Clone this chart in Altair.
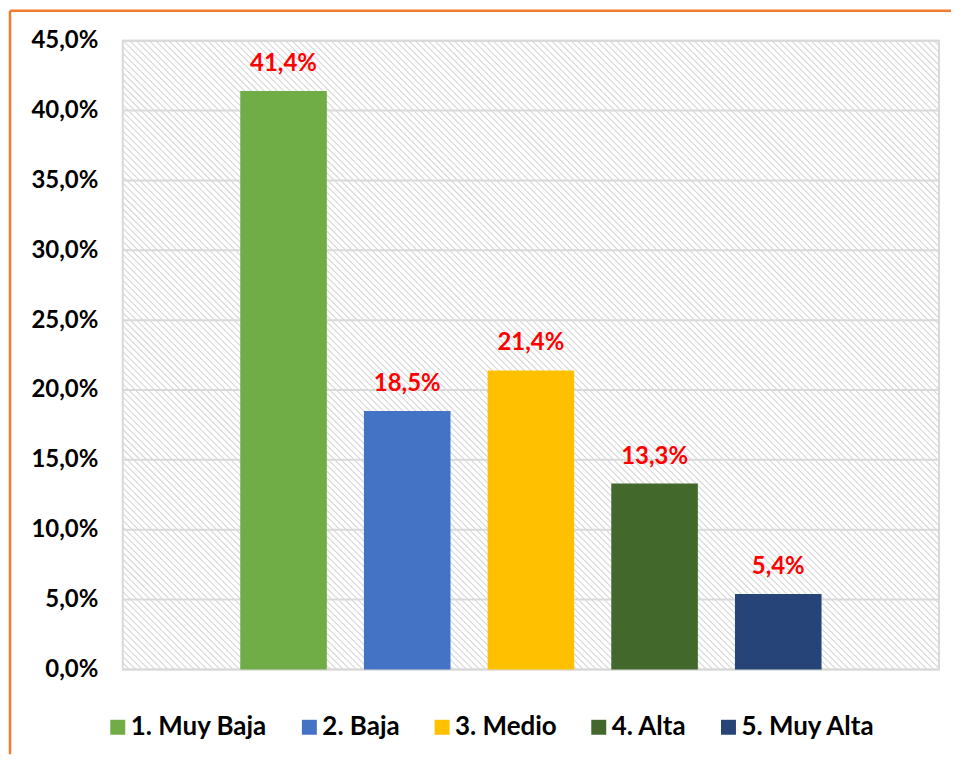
import altair as alt
import pandas as pd

# ---- data ----
categories = ["1. Muy Baja", "2. Baja", "3. Medio", "4. Alta", "5. Muy Alta"]
values = [0.414, 0.185, 0.214, 0.133, 0.054]
colors = ["#70AD47", "#4472C4", "#FFC000", "#43682B", "#264478"]
y_ticks = [0.0, 0.05, 0.10, 0.15, 0.20, 0.25, 0.30, 0.35, 0.40, 0.45]

# ---- style ----
W, H = 818, 630
HATCH_STEP = 6.5
FONT = "Lato"
FS = 24
LEG_FS = 26
ORANGE = "#ED7D31"
GRID = "#d9d9d9"

df = pd.DataFrame({"cat": categories, "val": values})
grid_df = pd.DataFrame({"t": y_ticks})
one = pd.DataFrame({"a": [0]})

xscale = alt.Scale(type="band", domain=categories, paddingInner=0.3, paddingOuter=0.95)
yscale = alt.Scale(domain=[0, 0.45], nice=False, zero=True)

n_lines = int((W + H) / HATCH_STEP) + 3
hatch = (
    alt.Chart(alt.sequence(0, n_lines, as_="i"))
    .transform_calculate(
        hx=f"datum.i * {HATCH_STEP} - {H}",
        hx2=f"datum.i * {HATCH_STEP}",
        hy=f"{H}",
        hy2="0",
    )
    .mark_rule(color="#d6d6d6", strokeWidth=1.1, clip=True)
    .encode(
        x=alt.X("hx:Q", scale=alt.Scale(domain=[0, W], nice=False, zero=False), axis=None),
        x2="hx2:Q",
        y=alt.Y("hy:Q", scale=alt.Scale(domain=[0, H], nice=False, zero=False), axis=None),
        y2="hy2:Q",
    )
)

grid = (
    alt.Chart(grid_df)
    .mark_rule(color=GRID, strokeWidth=2)
    .encode(y=alt.Y("t:Q", scale=yscale, axis=None))
)

bars = (
    alt.Chart(df)
    .mark_bar()
    .encode(
        x=alt.X("cat:N", scale=xscale, axis=None, sort=categories),
        y=alt.Y(
            "val:Q",
            scale=yscale,
            axis=alt.Axis(
                format=".1%",
                values=y_ticks,
                grid=False,
                ticks=False,
                domain=False,
                labelFont=FONT,
                labelFontSize=FS,
                labelFontWeight="bold",
                labelColor="black",
                labelPadding=25,
                title=None,
            ),
        ),
        color=alt.Color(
            "cat:N",
            scale=alt.Scale(domain=categories, range=colors),
            sort=categories,
            legend=alt.Legend(
                orient="none",
                legendX=-18,
                legendY=675,
                direction="horizontal",
                columns=5,
                title=None,
                symbolType="square",
                symbolSize=225,
                symbolStrokeWidth=0,
                symbolOpacity=1,
                labelFont=FONT,
                labelFontSize=LEG_FS,
                labelFontWeight="bold",
                labelColor="black",
                labelOffset=0,
                labelLimit=400,
                columnPadding=29,
                padding=0,
            ),
        ),
    )
)

labels = (
    alt.Chart(df)
    .mark_text(color="#FF0000", font=FONT, fontSize=FS, fontWeight="bold",
               baseline="alphabetic", dy=-20)
    .encode(
        x=alt.X("cat:N", scale=xscale, axis=None, sort=categories),
        y=alt.Y("val:Q", scale=yscale, axis=None),
        text=alt.Text("val:Q", format=".1%"),
    )
)

border_top = (
    alt.Chart(one)
    .mark_rule(color=ORANGE, strokeWidth=2.5)
    .encode(x=alt.value(-113), x2=alt.value(830), y=alt.value(-30))
)
border_left = (
    alt.Chart(one)
    .mark_rule(color=ORANGE, strokeWidth=2.5)
    .encode(x=alt.value(-113), y=alt.value(-30), y2=alt.value(715))
)

chart = (
    alt.layer(hatch, grid, bars, labels, border_top, border_left)
    .resolve_scale(x="independent", y="independent")
    .properties(width=W, height=H, padding=0)
    .configure(locale={"number": {"decimal": ",", "thousands": ".",
                                  "grouping": [3], "currency": ["", " €"]}})
    .configure_view(stroke=GRID, strokeWidth=2)
)

chart.save("out.html", embed_options={"renderer": "svg", "actions": False})
